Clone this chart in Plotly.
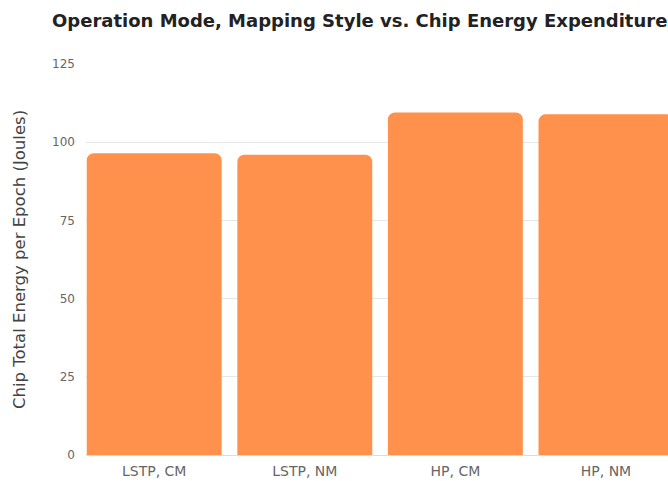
import plotly.graph_objects as go

categories = ["LSTP, CM", "LSTP, NM", "HP, CM", "HP, NM"]
energy = [96.5, 96.0, 109.5, 108.9]
y_ticks = [0, 25, 50, 75, 100, 125]

FONT = "DejaVu Sans, Liberation Sans, Arial, sans-serif"

fig = go.Figure(
    go.Bar(
        x=categories,
        y=energy,
        marker=dict(color="#FF914D", line=dict(width=0)),
    )
)

fig.update_layout(
    width=668,
    height=481,
    paper_bgcolor="white",
    plot_bgcolor="white",
    margin=dict(l=86, r=0, t=64, b=26, autoexpand=False),
    bargap=0.104,
    barcornerradius=7,
    showlegend=False,
    font=dict(family=FONT),
    title=dict(
        text="<b>Operation Mode, Mapping Style vs. Chip Energy Expenditure</b>",
        x=52 / 668,
        xanchor="left",
        xref="container",
        y=1 - 21 / 481,
        yanchor="middle",
        yref="container",
        font=dict(size=18, color="#222222", family=FONT),
    ),
    xaxis=dict(
        range=[-0.453, 3.412],
        showgrid=False,
        showline=False,
        zeroline=False,
        ticks="",
        tickfont=dict(size=14, color="#666666"),
        ticklabelstandoff=6,
    ),
    yaxis=dict(
        range=[0, 125],
        tickvals=y_ticks,
        showgrid=True,
        gridcolor="#e6e6e6",
        gridwidth=1,
        zeroline=True,
        zerolinecolor="#dddddd",
        zerolinewidth=1,
        showline=False,
        ticks="",
        tickfont=dict(size=12, color="#666666"),
        ticklabelstandoff=10,
        title=dict(
            text="Chip Total Energy per Epoch (Joules)",
            font=dict(size=16.5, color="#444444"),
            standoff=22,
        ),
    ),
)

fig.write_html(
    "out.html",
    config={"displayModeBar": False},
    post_script="document.body.style.margin='0';document.body.style.overflow='hidden';",
)
